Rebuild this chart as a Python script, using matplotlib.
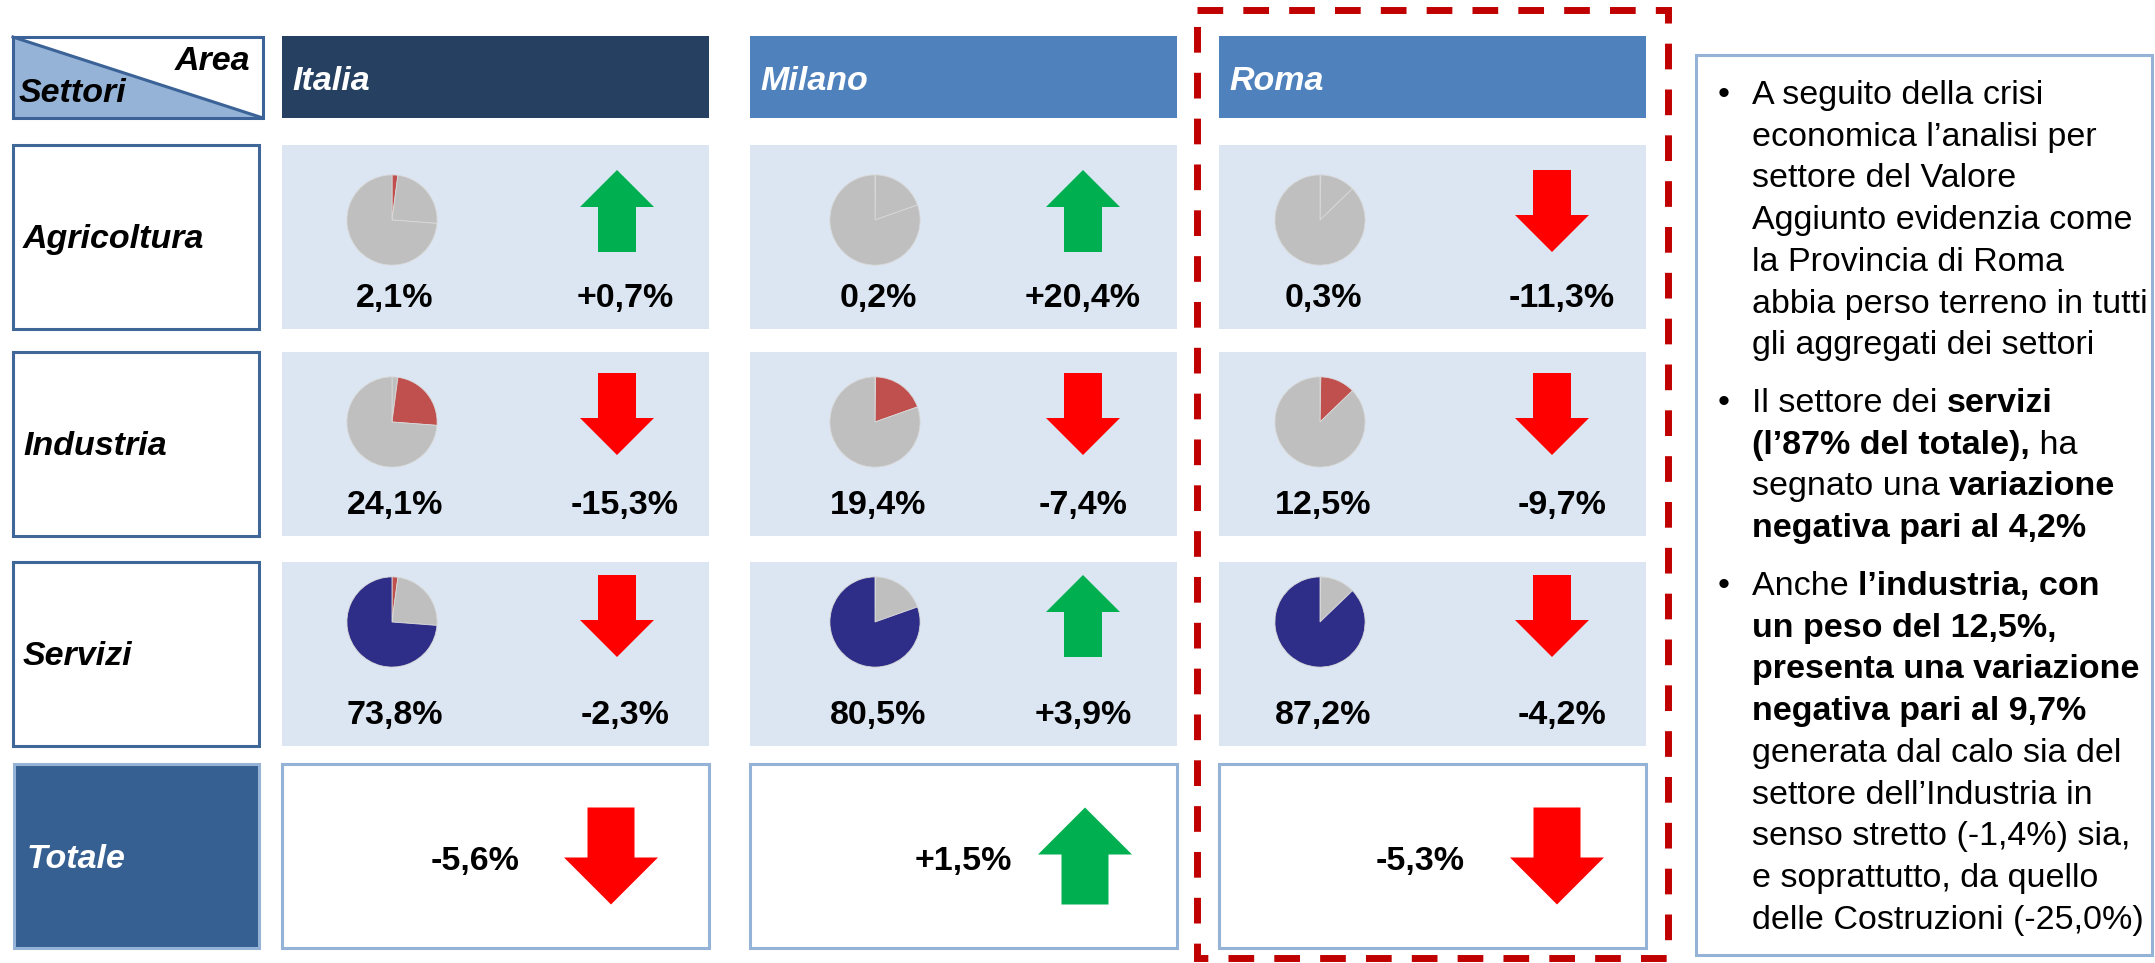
import matplotlib
matplotlib.use("Agg")
import matplotlib.pyplot as plt
from matplotlib.patches import Rectangle, Polygon
from matplotlib.font_manager import FontProperties

plt.rcParams['font.family'] = ['Liberation Sans', 'DejaVu Sans']

# dati: quota del valore aggiunto per settore (%) e variazione (%)
areas = ["Italia", "Milano", "Roma"]
sectors = ["Agricoltura", "Industria", "Servizi"]
share_italia = [2.1, 24.1, 73.8]
share_milano = [0.2, 19.4, 80.5]
share_roma = [0.3, 12.5, 87.2]
var_italia = [0.7, -15.3, -2.3]
var_milano = [20.4, -7.4, 3.9]
var_roma = [-11.3, -9.7, -4.2]
var_totale = [-5.6, 1.5, -5.3]

shares = [share_italia, share_milano, share_roma]
variations = [var_italia, var_milano, var_roma]

# testo del riquadro a destra: (testo, grassetto) per riga
note_par1 = [
    [("A seguito della crisi", False)],
    [("economica l\u2019analisi per", False)],
    [("settore del Valore", False)],
    [("Aggiunto evidenzia come", False)],
    [("la Provincia di Roma", False)],
    [("abbia perso terreno in tutti", False)],
    [("gli aggregati dei settori", False)],
]
note_par2 = [
    [("Il settore dei ", False), ("servizi", True)],
    [("(l\u201987% del totale),", True), (" ha", False)],
    [("segnato una ", False), ("variazione", True)],
    [("negativa pari al 4,2%", True)],
]
note_par3 = [
    [("Anche ", False), ("l\u2019industria, con", True)],
    [("un peso del 12,5%,", True)],
    [("presenta una variazione", True)],
    [("negativa pari al 9,7%", True)],
    [("generata dal calo sia del", False)],
    [("settore dell\u2019Industria in", False)],
    [("senso stretto (-1,4%) sia,", False)],
    [("e soprattutto, da quello", False)],
    [("delle Costruzioni (-25,0%)", False)],
]

W, H = 2155, 963
FS = 24.5
RED = "#FF0000"
GREEN = "#00B050"
pie_colors = [["#C0504D", "#BFBFBF", "#BFBFBF"],
              ["#BFBFBF", "#C0504D", "#BFBFBF"],
              ["#C0504D", "#BFBFBF", "#2E2E88"]]

fig = plt.figure(figsize=(W / 100, H / 100), dpi=100)
ax = fig.add_axes([0, 0, 1, 1])
ax.set_xlim(0, W)
ax.set_ylim(H, 0)
ax.axis('off')

col_left = [282, 750, 1219]
col_w = 427
pie_x = [392, 875, 1320]
arrow_x = [617, 1083, 1552]
delta_x = [625, 1083, 1562]
row_top = [145, 352, 562]
row_h = 184
pie_y = [220, 422, 622]
arrow_y = [211, 414, 616]
tot_top, tot_h = 764, 184
tot_text_right = [520, 1012, 1465]
tot_arrow_x = [611, 1085, 1557]


def arrow(cx, cy, up, hw, sw, length, hl, color):
    # asse y invertito: punta in alto = y minore
    s = 1 if up else -1
    tip = cy - s * length / 2
    base = tip + s * hl
    end = cy + s * length / 2
    pts = [(cx, tip), (cx + hw / 2, base), (cx + sw / 2, base), (cx + sw / 2, end),
           (cx - sw / 2, end), (cx - sw / 2, base), (cx - hw / 2, base)]
    ax.add_patch(Polygon(pts, closed=True, facecolor=color, edgecolor='none'))


def fmt_share(v):
    return f"{v:.1f}%".replace('.', ',')


def fmt_var(v):
    return f"{v:+.1f}%".replace('.', ',')


# intestazione angolo
ax.add_patch(Polygon([(13, 37), (13, 118), (263, 118)], closed=True,
                     facecolor="#95B3D7", edgecolor='none'))
ax.add_patch(Rectangle((13, 37), 250, 81, facecolor='none', edgecolor="#3B6397", lw=2.2))
ax.plot([13, 263], [37, 118], color="#3B6397", lw=2.2)
ax.text(250, 70, "Area", fontsize=FS, fontweight='bold', fontstyle='italic', ha='right')
ax.text(19, 102, "Settori", fontsize=FS, fontweight='bold', fontstyle='italic', ha='left')

# intestazioni aree
head_colors = ["#254061", "#4F81BD", "#4F81BD"]
for i, name in enumerate(areas):
    ax.add_patch(Rectangle((col_left[i], 36), col_w, 82, facecolor=head_colors[i], edgecolor='none'))
    ax.text(col_left[i] + 10, 90, name, fontsize=FS, fontweight='bold', fontstyle='italic',
            color='white')

# righe settori
for r, sec in enumerate(sectors):
    top = row_top[r]
    ax.add_patch(Rectangle((13, top), 246, row_h, facecolor='white', edgecolor="#3F6797", lw=2.2))
    ax.text(23, top + 103, sec, fontsize=FS, fontweight='bold', fontstyle='italic')
    for c in range(3):
        ax.add_patch(Rectangle((col_left[c], top), col_w, row_h, facecolor="#DCE6F2", edgecolor='none'))
        rad = 46
        pax = fig.add_axes([(pie_x[c] - rad) / W, 1 - (pie_y[r] + rad) / H, 2 * rad / W, 2 * rad / H])
        pax.pie(shares[c], colors=pie_colors[r], startangle=90, counterclock=False,
                wedgeprops=dict(edgecolor="#D9D9D9", linewidth=0.6))
        pax.set_xlim(-1.02, 1.02)
        pax.set_ylim(-1.02, 1.02)
        ax.text(pie_x[c] + 3, top + 162, fmt_share(shares[c][r]), fontsize=FS,
                fontweight='bold', ha='center')
        v = variations[c][r]
        arrow(arrow_x[c], arrow_y[r], v > 0, 74, 38, 82, 37, GREEN if v > 0 else RED)
        ax.text(delta_x[c], top + 162, fmt_var(v), fontsize=FS, fontweight='bold', ha='center')

# riga totale
ax.add_patch(Rectangle((14, tot_top), 245, tot_h, facecolor="#376092", edgecolor="#95B3D7", lw=2.2))
ax.text(27, tot_top + 104, "Totale", fontsize=FS, fontweight='bold', fontstyle='italic', color='white')
for c in range(3):
    ax.add_patch(Rectangle((col_left[c], tot_top), col_w, tot_h, facecolor='white',
                           edgecolor="#95B3D7", lw=2.2))
    v = var_totale[c]
    ax.text(tot_text_right[c], tot_top + 106, fmt_var(v), fontsize=FS, fontweight='bold', ha='right')
    arrow(tot_arrow_x[c], 856, v > 0, 94, 47, 97, 47, GREEN if v > 0 else RED)

# riquadro tratteggiato Roma
ax.add_patch(Rectangle((1197, 10), 471, 948, facecolor='none', edgecolor="#C00000", lw=5,
                       linestyle=(0, (3.7, 2.9))))

# riquadro note
ax.add_patch(Rectangle((1696, 55), 456, 900, facecolor='white', edgecolor="#95B3D7", lw=2.2))

renderer = fig.canvas.get_renderer()


def seg_width(s, bold):
    prop = FontProperties(family=['Liberation Sans', 'DejaVu Sans'], size=FS,
                          weight='bold' if bold else 'normal')
    w1, _, _ = renderer.get_text_width_height_descent(s + "l", prop, ismath=False)
    w2, _, _ = renderer.get_text_width_height_descent("l", prop, ismath=False)
    return w1 - w2


text_x, bullet_x = 1752, 1718
line_gap = 41.7
par_starts = [104, 412, 595]
for start, par in zip(par_starts, [note_par1, note_par2, note_par3]):
    ax.text(bullet_x, start, "\u2022", fontsize=FS)
    for k, line in enumerate(par):
        y = start + k * line_gap
        x = text_x
        for s, bold in line:
            ax.text(x, y, s, fontsize=FS, fontweight='bold' if bold else 'normal')
            x += seg_width(s, bold)

fig.savefig("out.png", dpi=100)
